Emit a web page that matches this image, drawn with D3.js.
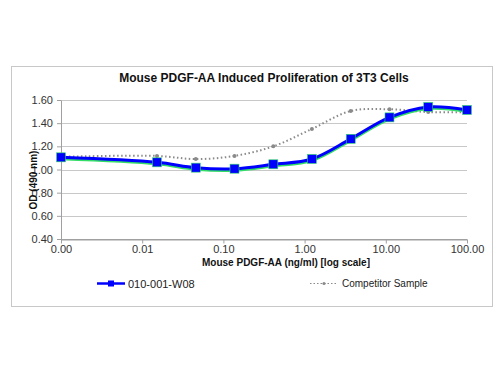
<!DOCTYPE html>
<html><head><meta charset="utf-8">
<script src="https://cdn.jsdelivr.net/npm/d3@7"></script>
<style>body{margin:0;background:#fff;font-family:"Liberation Sans",Arial,sans-serif}</style>
</head><body><svg id="c" width="500" height="375"></svg>
<script>
const concentrations = [0.001, 0.0152, 0.0457, 0.137, 0.412, 1.23, 3.70, 11.1, 33.3, 100];
const sampleValues = [1.105, 1.062, 1.016, 1.007, 1.045, 1.091, 1.265, 1.45, 1.54, 1.514];
const competitorValues = [1.11, 1.117, 1.09, 1.117, 1.20, 1.35, 1.505, 1.52, 1.496, 1.496];
const xTickValues = [0.001, 0.01, 0.1, 1, 10, 100];
const xTickLabels = ["0.00", "0.01", "0.10", "1.00", "10.00", "100.00"];
const yTickValues = [0.4, 0.6, 0.8, 1.0, 1.2, 1.4, 1.6];

const svg = d3.select("#c");
svg.append("rect").attr("x",11.5).attr("y",66.5).attr("width",481).attr("height",240)
  .attr("fill","#fff").attr("stroke","#c8c8c8");

const x = d3.scaleLog().domain([0.001,100]).range([61,467]);
const y = d3.scaleLinear().domain([0.4,1.6]).range([239,100]);

// gridlines
svg.append("g").selectAll("line").data(yTickValues).join("line")
  .attr("x1",61).attr("x2",467).attr("y1",d=>Math.round(y(d))+0.5).attr("y2",d=>Math.round(y(d))+0.5)
  .attr("stroke",d=>d===0.4?"#a0a0a0":"#c8c8c8").attr("stroke-width",1);

// y axis
const ya = svg.append("g").attr("transform","translate(61,0)")
  .call(d3.axisLeft(y).tickValues(yTickValues).tickFormat(d3.format(".2f")).tickSize(4).tickSizeOuter(0));
ya.select(".domain").attr("stroke","#a0a0a0");
ya.selectAll(".tick line").attr("stroke","#a0a0a0");
ya.selectAll("text").attr("font-size",11).attr("fill","#333").attr("font-family","Liberation Sans, Arial").attr("x",-8);

// x axis
const xa = svg.append("g").attr("transform","translate(0,239.5)")
  .call(d3.axisBottom(x).tickValues(xTickValues).tickFormat((d,i)=>xTickLabels[i]).tickSize(4).tickSizeOuter(0));
xa.select(".domain").attr("stroke","#a0a0a0");
xa.selectAll(".tick line").attr("stroke","#a0a0a0");
xa.selectAll("text").attr("font-size",11).attr("fill","#333").attr("font-family","Liberation Sans, Arial").attr("dy","0.6em");

// title and labels
svg.append("text").attr("x",264).attr("y",82).attr("text-anchor","middle")
  .attr("font-size",12).attr("font-weight","bold").attr("fill","#111")
  .text("Mouse PDGF-AA Induced Proliferation of 3T3 Cells");
svg.append("text").attr("x",286).attr("y",266).attr("text-anchor","middle")
  .attr("font-size",10).attr("font-weight","bold").attr("fill","#111")
  .text("Mouse PDGF-AA (ng/ml) [log scale]");
svg.append("text").attr("transform","translate(37,180) rotate(-90)").attr("text-anchor","middle")
  .attr("font-size",10).attr("font-weight","bold").attr("fill","#111")
  .text("OD (490 nm)");

const line = d3.line().x(d=>x(d[0])).y(d=>y(d[1])).curve(d3.curveCatmullRom.alpha(0.5));
const comp = concentrations.map((c,i)=>[c,competitorValues[i]]);
const samp = concentrations.map((c,i)=>[c,sampleValues[i]]);

// competitor
svg.append("path").attr("d",line(comp)).attr("fill","none").attr("stroke","#8a8a8a")
  .attr("stroke-width",2).attr("stroke-dasharray","1.5,2.5");
svg.append("g").selectAll("circle").data(comp).join("circle")
  .attr("cx",d=>x(d[0])).attr("cy",d=>y(d[1])).attr("r",2).attr("fill","#8a8a8a");

// sample with green shadow
svg.append("path").attr("d",line(samp)).attr("fill","none").attr("stroke","#33dd66")
  .attr("stroke-width",3).attr("transform","translate(0,1.5)");
svg.append("path").attr("d",line(samp)).attr("fill","none").attr("stroke","#0000ff")
  .attr("stroke-width",3);
svg.append("g").selectAll("rect").data(samp).join("rect")
  .attr("x",d=>x(d[0])-4.5).attr("y",d=>y(d[1])-4.5).attr("width",9).attr("height",9)
  .attr("fill","#0000ff").attr("stroke","#33dd66").attr("stroke-width",0.6);

// legend
svg.append("line").attr("x1",97).attr("x2",125).attr("y1",283.5).attr("y2",283.5)
  .attr("stroke","#0000ff").attr("stroke-width",2.5);
svg.append("rect").attr("x",108).attr("y",280.5).attr("width",6).attr("height",6).attr("fill","#0000ff");
svg.append("text").attr("x",128).attr("y",287.5).attr("font-size",11).attr("fill","#222").text("010-001-W08");
svg.append("line").attr("x1",310).attr("x2",338).attr("y1",283.5).attr("y2",283.5)
  .attr("stroke","#8a8a8a").attr("stroke-width",1.2).attr("stroke-dasharray","1.5,2");
svg.append("circle").attr("cx",324).attr("cy",283.5).attr("r",1.6).attr("fill","#8a8a8a");
svg.append("text").attr("x",342).attr("y",287).attr("font-size",10).attr("fill","#222").text("Competitor Sample");
</script></body></html>
